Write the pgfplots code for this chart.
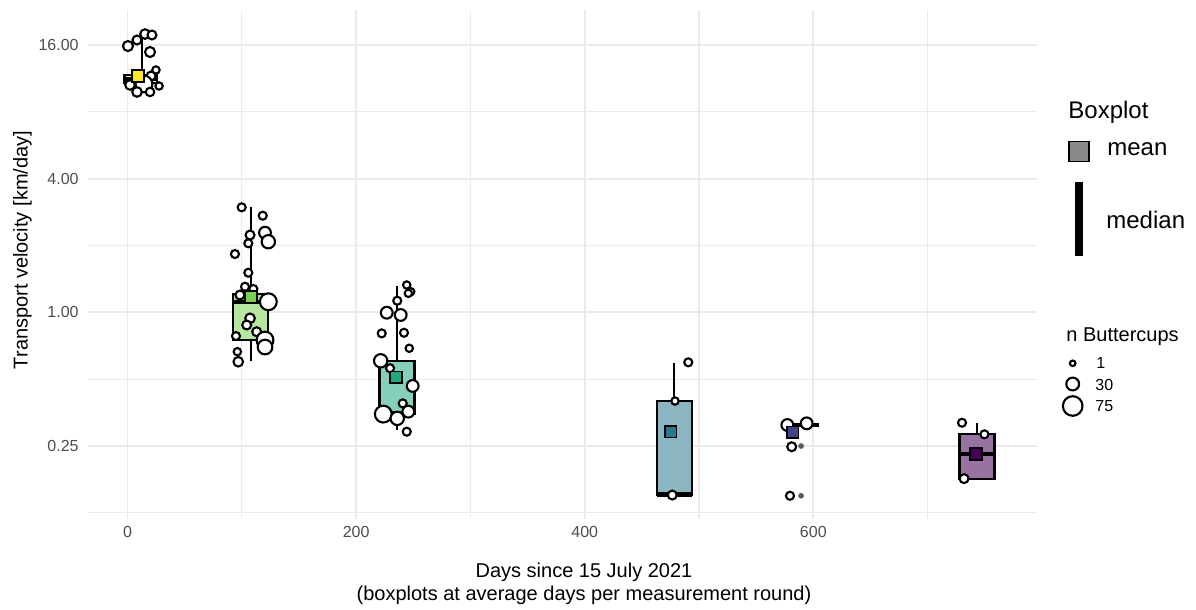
\documentclass[border=0pt]{standalone}
\usepackage{fontspec}
\setmainfont{Liberation Sans}
\usepackage{pgfplots}
\pgfplotsset{compat=1.18}
\definecolor{vA}{HTML}{FDE725}
\definecolor{vB}{HTML}{7AD151}
\definecolor{vC}{HTML}{22A884}
\definecolor{vD}{HTML}{2A788E}
\definecolor{vE}{HTML}{414487}
\definecolor{vF}{HTML}{440154}
\definecolor{gridc}{HTML}{EBEBEB}
\definecolor{tickc}{HTML}{4D4D4D}
\definecolor{legendgray}{HTML}{8A8A8A}
\definecolor{outc}{HTML}{5A5A5A}

\pgfplotstableread{
x y r
0.4 15.83 5.2
8.3 16.85 4.7
15.3 17.93 5.0
21.4 17.75 4.7
19.7 14.88 5.2
24.9 12.35 4.0
20.6 11.60 4.7
27.6 10.46 4.0
2.2 10.57 5.0
14.4 10.68 8.3
8.3 9.83 5.0
19.7 9.83 4.5
99.9 2.972 4.3
118.3 2.724 4.3
107.2 2.230 4.7
120.3 2.284 6.0
123.2 2.080 6.7
105.7 2.046 4.3
94.0 1.831 4.3
105.7 1.508 4.3
102.8 1.304 4.3
110.1 1.274 4.3
98.4 1.197 4.7
123.2 1.116 8.3
107.2 0.940 5.0
104.3 0.877 4.7
113.0 0.818 4.7
94.9 0.782 4.3
120.3 0.750 8.3
120.3 0.698 7.3
96.1 0.665 4.0
96.9 0.599 5.0
244.3 1.328 4.0
247.8 1.238 4.0
245.7 1.218 4.0
236.0 1.128 4.3
226.8 0.996 6.0
239.0 0.973 6.0
222.4 0.804 4.3
241.9 0.809 4.3
246.5 0.689 4.0
221.5 0.605 6.7
229.7 0.560 4.3
249.5 0.466 6.0
240.8 0.389 4.3
223.8 0.348 8.3
236.0 0.333 6.7
245.7 0.357 6.0
244.3 0.290 4.3
490.6 0.5955 4.3
479.0 0.3986 4.0
476.6 0.1503 4.7
577.3 0.3108 6.0
594.2 0.3163 6.0
581.1 0.2481 4.7
579.6 0.1492 4.3
730.1 0.3183 4.3
749.7 0.2822 4.3
731.9 0.1782 4.7
}\points

\begin{document}
\begin{tikzpicture}
\begin{scope}[x=0.5pt,y=-0.5pt]
\path[use as bounding box] (0,0) rectangle (1196,610);
\end{scope}
\begin{axis}[
  at={(44pt,-259.4pt)}, anchor=south west,
  scale only axis, width=474.5pt, height=254.5pt,
  xmin=-34.56, xmax=795.7,
  ymode=log, log basis y=2, ymin=0.1175, ymax=23.05,
  axis line style={draw=none},
  major tick length=0pt, minor tick length=0pt,
  xtick={0,200,400,600}, xticklabels={0,200,400,600},
  minor xtick={100,300,500,700},
  ytick={0.25,1,4,16}, yticklabels={0.25,1.00,4.00,16.00},
  extra y ticks={0.125,0.5,2,8}, extra y tick labels={},
  extra y tick style={major grid style={gridc, line width=0.6pt}},
  xmajorgrids, xminorgrids, ymajorgrids,
  major grid style={gridc, line width=0.9pt},
  minor grid style={gridc, line width=0.6pt},
  ticklabel style={font=\fontsize{8}{9.6}\selectfont, text=tickc},
  xticklabel style={inner sep=0pt, anchor=north, yshift=-3.8pt},
  yticklabel style={inner sep=0pt, anchor=east, xshift=-4.5pt},
  /pgf/number format/assume math mode=true,
  clip=false,
]
% boxes
\addplot[draw=black, line width=1.1pt, fill=vA!55!white] coordinates {(-2.6,10.79) (26.0,10.79) (26.0,11.72) (-2.6,11.72)} --cycle;
\addplot[draw=black, line width=1.1pt, fill=vB!55!white] coordinates {(92.6,0.7504) (123.2,0.7504) (123.2,1.209) (92.6,1.209)} --cycle;
\addplot[draw=black, line width=1.1pt, fill=vC!55!white] coordinates {(220.5,0.3483) (251.1,0.3483) (251.1,0.6036) (220.5,0.6036)} --cycle;
\addplot[draw=black, line width=1.1pt, fill=vD!55!white] coordinates {(463.0,0.1503) (493.6,0.1503) (493.6,0.3986) (463.0,0.3986)} --cycle;
\addplot[draw=black, line width=1.1pt, fill=vF!55!white] coordinates {(727.9,0.1777) (758.5,0.1777) (758.5,0.2822) (727.9,0.2822)} --cycle;
% whiskers
\addplot[black, line width=1.1pt] coordinates {(12.7,11.72) (12.7,17.75)};
\addplot[black, line width=1.1pt] coordinates {(12.7,10.79) (12.7,9.83)};
\addplot[black, line width=1.1pt] coordinates {(107.9,1.209) (107.9,2.981)};
\addplot[black, line width=1.1pt] coordinates {(107.9,0.7504) (107.9,0.6036)};
\addplot[black, line width=1.1pt] coordinates {(235.8,0.6036) (235.8,1.3138)};
\addplot[black, line width=1.1pt] coordinates {(235.8,0.3483) (235.8,0.2951)};
\addplot[black, line width=1.1pt] coordinates {(478.3,0.3986) (478.3,0.5930)};
\addplot[black, line width=1.1pt] coordinates {(743.2,0.2822) (743.2,0.3183)};
% medians
\addplot[black, line width=2.2pt] coordinates {(-2.6,11.25) (26.0,11.25)};
\addplot[black, line width=2.2pt] coordinates {(92.6,1.113) (123.2,1.113)};
\addplot[black, line width=2.2pt] coordinates {(220.5,0.352) (251.1,0.352)};
\addplot[black, line width=2.2pt] coordinates {(463.0,0.1515) (493.6,0.1515)};
\addplot[black, line width=2.2pt] coordinates {(574.0,0.3108) (604.6,0.3108)};
\addplot[black, line width=2.2pt] coordinates {(727.9,0.2300) (758.5,0.2300)};
% outliers
\addplot[only marks, mark=*, mark size=1.2pt, color=outc] coordinates {(589.3,0.25) (589.3,0.1492)};
% buttercups
\addplot[scatter, only marks, mark=*,
  scatter/use mapped color={draw=black, fill=white},
  mark options={line width=1.05pt},
  visualization depends on={\thisrow{r}*0.55-0.35 \as \msize},
  scatter/@pre marker code/.append style={/tikz/mark size=\msize}]
  table[x=x, y=y] {\points};
% means
\addplot[only marks, mark=square*, mark size=2.95pt, mark options={draw=black, fill=vA, line width=0.75pt}] coordinates {(9.2,11.60)};
\addplot[only marks, mark=square*, mark size=2.95pt, mark options={draw=black, fill=vB, line width=0.75pt}] coordinates {(108.0,1.176)};
\addplot[only marks, mark=square*, mark size=2.95pt, mark options={draw=black, fill=vC, line width=0.75pt}] coordinates {(234.9,0.5097)};
\addplot[only marks, mark=square*, mark size=2.95pt, mark options={draw=black, fill=vD, line width=0.75pt}] coordinates {(475.3,0.2899)};
\addplot[only marks, mark=square*, mark size=2.95pt, mark options={draw=black, fill=vE, line width=0.75pt}] coordinates {(582.0,0.2881)};
\addplot[only marks, mark=square*, mark size=2.95pt, mark options={draw=black, fill=vF, line width=0.75pt}] coordinates {(742.3,0.2300)};
\end{axis}
\begin{scope}[x=0.5pt,y=-0.5pt]
% axis titles
\node[anchor=base, inner sep=0pt, font=\fontsize{10}{12}\selectfont] at (584,577.3) {Days since 15 July 2021};
\node[anchor=base, inner sep=0pt, font=\fontsize{10}{12}\selectfont] at (584,600) {(boxplots at average days per measurement round)};
\node[rotate=90, inner sep=0pt, font=\fontsize{10}{12}\selectfont] at (22.5,250) {Transport velocity [km/day]};
% legend: Boxplot
\node[anchor=west, inner sep=0pt, font=\fontsize{12}{14}\selectfont] at (1068,112) {Boxplot};
\draw[fill=legendgray, line width=0.75pt] (1069,141.5) rectangle (1089,161.5);
\node[anchor=west, inner sep=0pt, font=\fontsize{12}{14}\selectfont] at (1107,149) {mean};
\fill[black] (1075,182) rectangle (1083,256);
\node[anchor=west, inner sep=0pt, font=\fontsize{12}{14}\selectfont] at (1106,220) {median};
% legend: size
\node[anchor=west, inner sep=0pt, font=\fontsize{10}{12}\selectfont] at (1066,337) {n Buttercups};
\draw[line width=1.05pt, fill=white] (1072.7,363.3) circle[radius=1.4pt];
\draw[line width=1.05pt, fill=white] (1072.7,384) circle[radius=3.2pt];
\draw[line width=1.05pt, fill=white] (1072.7,406) circle[radius=4.9pt];
\node[anchor=west, inner sep=0pt, font=\fontsize{8}{9.6}\selectfont] at (1096,363.3) {1};
\node[anchor=west, inner sep=0pt, font=\fontsize{8}{9.6}\selectfont] at (1095,384.5) {30};
\node[anchor=west, inner sep=0pt, font=\fontsize{8}{9.6}\selectfont] at (1095,406) {75};
\end{scope}
\end{tikzpicture}
\end{document}
